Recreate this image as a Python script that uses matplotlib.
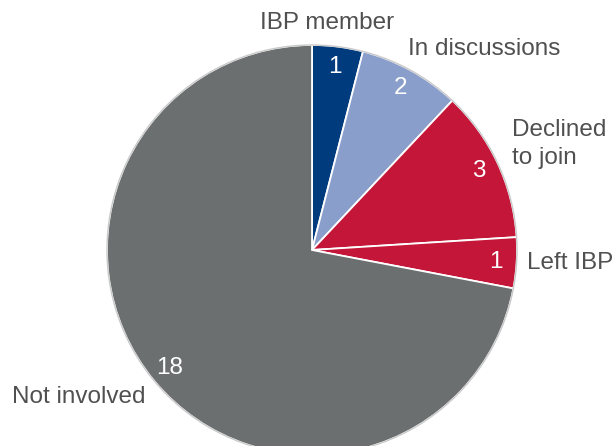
import matplotlib.pyplot as plt
from matplotlib.patches import Circle

plt.rcParams['font.family'] = ['Liberation Sans', 'DejaVu Sans']

# IBP involvement counts, clockwise from 12 o'clock
categories = ['IBP member', 'In discussions', 'Declined\nto join', 'Left IBP', 'Not involved']
counts = [1, 2, 3, 1, 18]
colors = ['#003C7D', '#8A9ECC', '#C41638', '#C41638', '#6B6F6F']

fig = plt.figure(figsize=(6.14, 4.46), dpi=100)
ax = fig.add_axes([0, 0, 1, 1])

wedges, texts, autotexts = ax.pie(
    counts, colors=colors, startangle=90, counterclock=False,
    radius=1.0, pctdistance=0.9,
    autopct=lambda p: '%d' % round(p * sum(counts) / 100.0),
    wedgeprops=dict(edgecolor='white', linewidth=1.3),
    textprops=dict(color='white', fontsize=17.5))
ax.add_patch(Circle((0, 0), 1.0, fill=False, edgecolor='#c9c9c9', linewidth=1.0, zorder=3))

txt = dict(color='#505050', fontsize=17.5, va='center')
ax.text(0.073, 1.107, categories[0], ha='center', **txt)
ax.text(0.468, 0.98, categories[1], ha='left', **txt)
ax.text(0.976, 0.515, categories[2], ha='left', linespacing=1.35, **txt)
ax.text(1.049, -0.063, categories[3], ha='left', **txt)
ax.text(-1.463, -0.717, categories[4], ha='left', **txt)

ax.set_aspect('equal')
ax.set_xlim(-312 / 205, 302 / 205)
ax.set_ylim(-196 / 205, 250 / 205)
ax.axis('off')

fig.savefig('out.png', dpi=100)
